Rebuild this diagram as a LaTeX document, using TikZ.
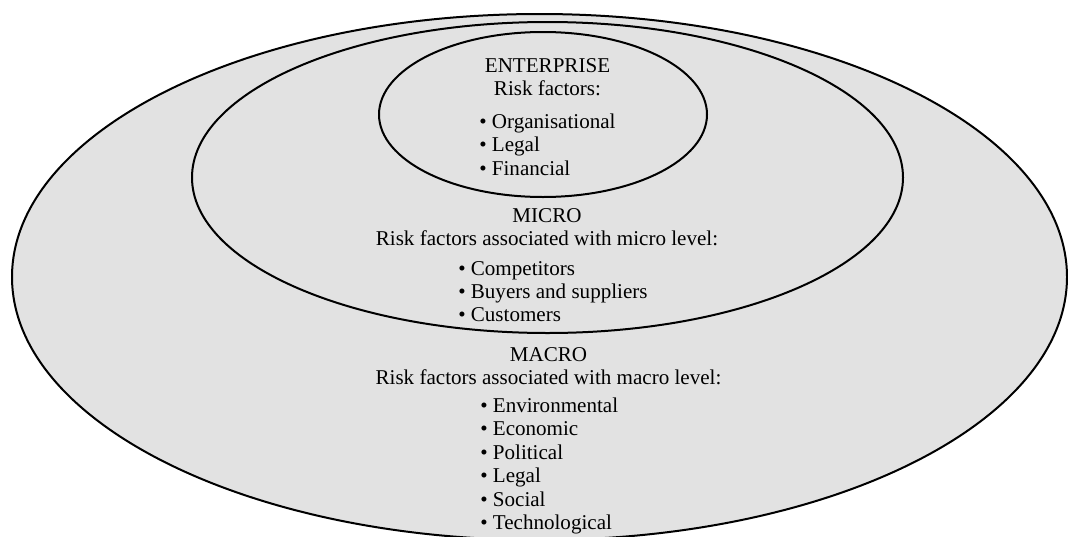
\documentclass[tikz,border=0pt]{standalone}
\usepackage{fontspec}
\setmainfont{Liberation Serif}
\usetikzlibrary{shapes.geometric}
\definecolor{ringgray}{RGB}{226,226,226}

\begin{document}
\begin{tikzpicture}
		[x=0.75pt, y=-0.75pt,
		ring/.style ={ellipse, draw=black, line width=1.5pt, fill=ringgray, inner sep=0pt},
		txt/.style ={inner sep=0pt, font=\fontsize{15.8}{17.6}\selectfont},
		heading/.style ={txt, align=center, anchor=north},
		items/.style ={txt, align=left, anchor=north west},
		]

		\useasboundingbox (0,0) rectangle (1068,536);

		% the three levels, drawn from the outside in
		\draw (539.5,277) node[ring, minimum width=791.25pt, minimum height=394.5pt] (macro) {};
		\draw (547.5,177.5) node[ring, minimum width=533.25pt, minimum height=233.25pt] (micro) {};
		\draw (543,114.5) node[ring, minimum width=246pt, minimum height=123.75pt] (enterprise) {};

		\draw (547.5,58) node[heading] (enterprise-head) {ENTERPRISE\\Risk factors:};
		\draw (479,113.5) node[items] (enterprise-list) {\textbullet{} Organisational\\\textbullet{} Legal\\\textbullet{} Financial};

		\draw (547,208) node[heading] (micro-head) {MICRO\\Risk factors associated with micro level:};
		\draw (458,260.8) node[items] (micro-list) {\textbullet{} Competitors\\\textbullet{} Buyers and suppliers\\\textbullet{} Customers};

		\draw (548.5,347) node[heading] (macro-head) {MACRO\\Risk factors associated with macro level:};
		\draw (480,397.6) node[items] (macro-list) {\textbullet{} Environmental\\\textbullet{} Economic\\\textbullet{} Political\\\textbullet{} Legal\\\textbullet{} Social\\\textbullet{} Technological};
	\end{tikzpicture}
\end{document}
